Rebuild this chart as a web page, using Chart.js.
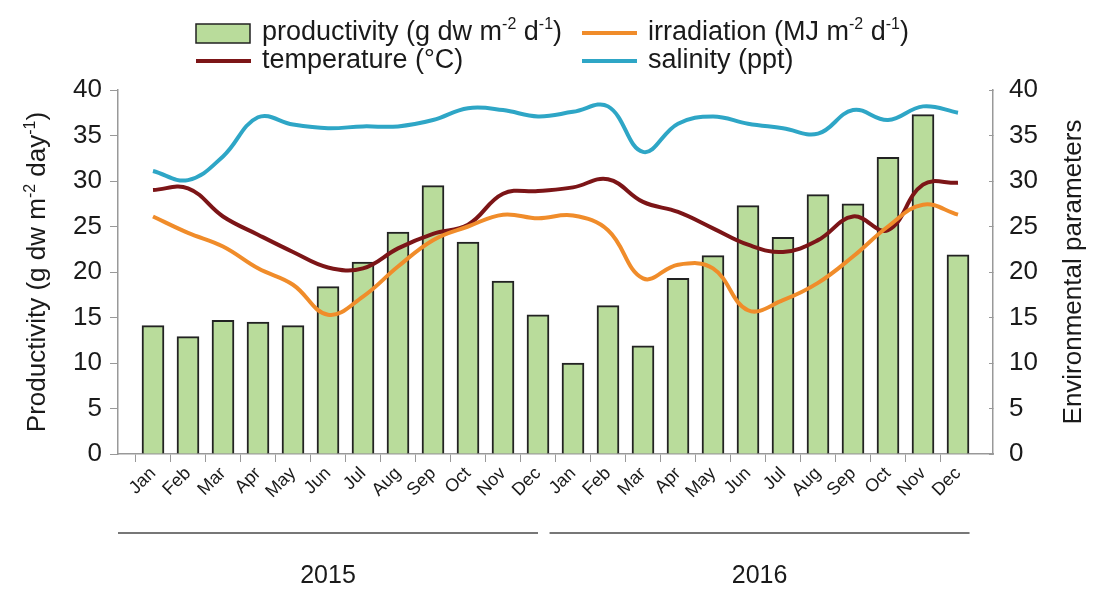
<!DOCTYPE html>
<html>
<head>
<title>Productivity and environmental parameters</title>
<script src="https://cdn.jsdelivr.net/npm/chart.js"></script>
<style>
  body { margin: 0; background: #fff; }
</style>
</head>
<body>
<canvas id="prodChart" width="1101" height="596"></canvas>
<script>
// month labels, two years
const months = ["Jan", "Feb", "Mar", "Apr", "May", "Jun", "Jul", "Aug", "Sep", "Oct", "Nov", "Dec",
                "Jan", "Feb", "Mar", "Apr", "May", "Jun", "Jul", "Aug", "Sep", "Oct", "Nov", "Dec"];
const years = ["2015", "2016"];

// productivity (g dw m-2 d-1), left axis
const productivity = [14.1, 12.9, 14.7, 14.5, 14.1, 18.4, 21.1, 24.4, 29.5, 23.3, 19.0, 15.3,
                      10.0, 16.3, 11.9, 19.3, 21.8, 27.3, 23.8, 28.5, 27.5, 32.6, 37.3, 21.9];
// environmental parameters, right axis
const irradiation = [26.1, 24.3, 22.8, 20.4, 18.6, 15.3, 17.3, 20.6, 23.5, 25.0, 26.3, 25.9,
                     26.2, 24.6, 19.3, 20.8, 20.4, 15.8, 16.9, 18.8, 21.7, 25.0, 27.4, 26.3];
const temperature = [29.0, 29.2, 26.1, 24.1, 22.2, 20.5, 20.4, 22.6, 24.2, 25.2, 28.6, 28.9,
                     29.3, 30.2, 27.7, 26.6, 24.8, 23.0, 22.2, 23.5, 26.1, 24.6, 29.6, 29.8];
const salinity = [31.1, 30.1, 32.7, 37.0, 36.2, 35.8, 36.0, 36.0, 36.7, 38.0, 37.8, 37.1,
                  37.6, 38.2, 33.2, 36.3, 37.1, 36.3, 35.8, 35.2, 37.8, 36.7, 38.2, 37.5];

const yMin = 0, yMax = 40, yStep = 5;

const GREEN = "#b9dc9b", ORANGE = "#f08c2a", DARKRED = "#7c1517", BLUE = "#2ea6c6";
const FONT = "'Liberation Sans', Arial, sans-serif";
const TXT = "#1a1a1a";

// one empty slot at each end so the months sit a whole step in from the axes
const pad = arr => [null].concat(arr, [null]);
const labels = [""].concat(months, [""]);

// draws text where parts can be superscript
function richText(ctx, parts, x, y, size) {
  ctx.textBaseline = "middle";
  ctx.textAlign = "left";
  let cx = x;
  parts.forEach(p => {
    const s = p.sup ? Math.round(size * 0.6) : size;
    ctx.font = s + "px " + FONT;
    ctx.fillText(p.t, cx, p.sup ? y - size * 0.3 : y);
    cx += ctx.measureText(p.t).width;
  });
  return cx - x;
}
function richWidth(ctx, parts, size) {
  let w = 0;
  parts.forEach(p => {
    ctx.font = (p.sup ? Math.round(size * 0.6) : size) + "px " + FONT;
    w += ctx.measureText(p.t).width;
  });
  return w;
}

const legendItems = [
  { kind: "box", color: GREEN, x: 196, y: 33, parts: [{t: "productivity (g dw m"}, {t: "-2", sup: true}, {t: " d"}, {t: "-1", sup: true}, {t: ")"}] },
  { kind: "line", color: ORANGE, x: 582, y: 33, parts: [{t: "irradiation (MJ m"}, {t: "-2", sup: true}, {t: " d"}, {t: "-1", sup: true}, {t: ")"}] },
  { kind: "line", color: DARKRED, x: 196, y: 61, parts: [{t: "temperature (°C)"}] },
  { kind: "line", color: BLUE, x: 582, y: 61, parts: [{t: "salinity (ppt)"}] }
];

const extrasPlugin = {
  id: "extras",
  afterDraw(chart) {
    const ctx = chart.ctx;
    const xs = chart.scales.x;
    const area = chart.chartArea;
    ctx.save();
    ctx.fillStyle = TXT;

    // legend
    legendItems.forEach(it => {
      if (it.kind === "box") {
        ctx.fillStyle = it.color;
        ctx.fillRect(it.x, it.y - 9, 54, 19);
        ctx.strokeStyle = "#222";
        ctx.lineWidth = 1.5;
        ctx.strokeRect(it.x, it.y - 9, 54, 19);
      } else {
        ctx.strokeStyle = it.color;
        ctx.lineWidth = 4;
        ctx.beginPath();
        ctx.moveTo(it.x, it.y);
        ctx.lineTo(it.x + 55, it.y);
        ctx.stroke();
      }
      ctx.fillStyle = TXT;
      richText(ctx, it.parts, it.x + 66, it.y, 27);
    });

    // left axis title
    const leftTitle = [{t: "Productivity (g dw m"}, {t: "-2", sup: true}, {t: " day"}, {t: "-1", sup: true}, {t: ")"}];
    const lw = richWidth(ctx, leftTitle, 26);
    ctx.save();
    ctx.translate(38, (area.top + area.bottom) / 2);
    ctx.rotate(-Math.PI / 2);
    ctx.fillStyle = TXT;
    richText(ctx, leftTitle, -lw / 2, 0, 26);
    ctx.restore();

    // right axis title
    ctx.save();
    ctx.translate(1074, (area.top + area.bottom) / 2);
    ctx.rotate(-Math.PI / 2);
    ctx.fillStyle = TXT;
    ctx.font = "26px " + FONT;
    ctx.textAlign = "center";
    ctx.textBaseline = "middle";
    ctx.fillText("Environmental parameters", 0, 0);
    ctx.restore();

    // year brackets under the months
    const step = xs.getPixelForValue(2) - xs.getPixelForValue(1);
    const spans = [
      [xs.getPixelForValue(0), xs.getPixelForValue(12)],
      [xs.getPixelForValue(12) + step * 0.33, xs.getPixelForValue(24) + step * 0.33]
    ];
    ctx.strokeStyle = "#777";
    ctx.lineWidth = 2;
    ctx.font = "25px " + FONT;
    ctx.textAlign = "center";
    ctx.textBaseline = "middle";
    spans.forEach((s, i) => {
      ctx.beginPath();
      ctx.moveTo(s[0], 533);
      ctx.lineTo(s[1], 533);
      ctx.stroke();
      ctx.fillStyle = TXT;
      ctx.fillText(years[i], (s[0] + s[1]) / 2, 576);
    });
    ctx.restore();
  }
};

const lineSet = (label, data, color) => ({
  type: "line",
  label: label,
  data: pad(data),
  yAxisID: "y2",
  borderColor: color,
  backgroundColor: color,
  borderWidth: 4,
  tension: 0.4,
  pointRadius: 0,
  fill: false,
  order: 1
});

const ctx = document.getElementById("prodChart").getContext("2d");
const chart = new Chart(ctx, {
  type: "bar",
  data: {
    labels: labels,
    datasets: [
      {
        label: "productivity (g dw m-2 d-1)",
        data: pad(productivity),
        yAxisID: "y",
        backgroundColor: GREEN,
        borderColor: "#222",
        borderWidth: 2,
        barThickness: 22,
        order: 2
      },
      lineSet("irradiation (MJ m-2 d-1)", irradiation, ORANGE),
      lineSet("temperature (°C)", temperature, DARKRED),
      lineSet("salinity (ppt)", salinity, BLUE)
    ]
  },
  options: {
    responsive: false,
    devicePixelRatio: 1,
    animation: false,
    layout: { padding: { top: 90, bottom: 0, left: 0, right: 0 } },
    plugins: {
      legend: { display: false },
      tooltip: { enabled: false }
    },
    scales: {
      x: {
        offset: false,
        border: { color: "#999", width: 1.5 },
        grid: {
          drawOnChartArea: false,
          tickLength: 8,
          tickColor: c => (c.index === 0 || c.index === labels.length - 1) ? "rgba(0,0,0,0)" : "#999"
        },
        ticks: {
          autoSkip: false,
          maxRotation: 45,
          minRotation: 45,
          padding: 1,
          color: TXT,
          font: { family: FONT, size: 18 }
        },
        afterFit: s => { s.height = 142; }
      },
      y: {
        position: "left",
        min: yMin,
        max: yMax,
        border: { color: "#999", width: 1.5 },
        grid: { drawOnChartArea: false, tickLength: 8, tickColor: "#999" },
        ticks: { stepSize: yStep, padding: 8, color: TXT, font: { family: FONT, size: 26 } },
        afterFit: s => { s.width = 118; }
      },
      y2: {
        position: "right",
        min: yMin,
        max: yMax,
        border: { color: "#999", width: 1.5 },
        grid: { drawOnChartArea: false, tickLength: -4, tickColor: "#999" },
        ticks: { stepSize: yStep, padding: 20, color: TXT, font: { family: FONT, size: 26 } },
        afterFit: s => { s.width = 108; }
      }
    }
  },
  plugins: [extrasPlugin]
});
</script>
</body>
</html>
